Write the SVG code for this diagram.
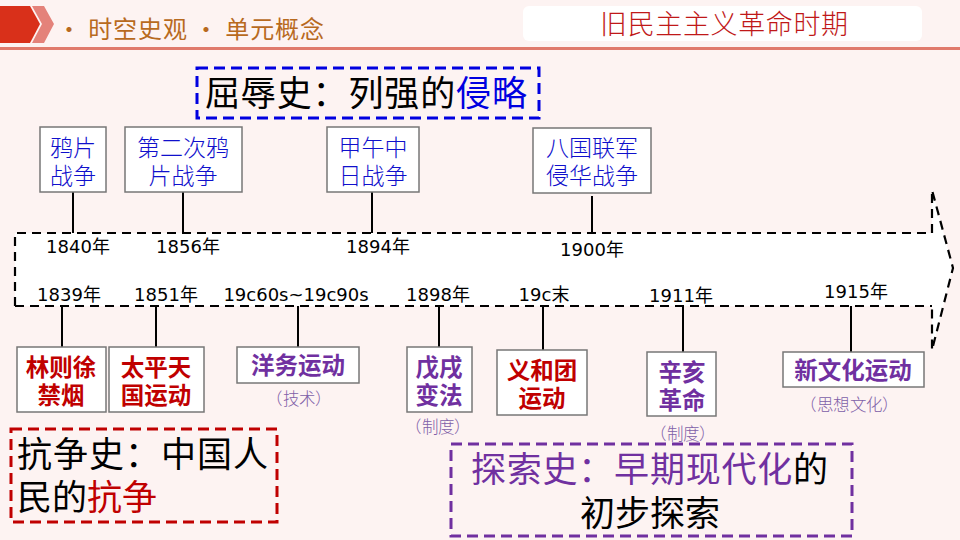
<svg xmlns="http://www.w3.org/2000/svg" width="960" height="540" viewBox="0 0 960 540">
<defs>
<style>
.sans{font-family:"Noto Sans CJK SC","Liberation Sans",sans-serif;}
.num{font-family:"DejaVu Sans","Noto Sans CJK SC",sans-serif;}
.box{fill:#fff;stroke:#777;stroke-width:1.5;}
.conn{stroke:#000;stroke-width:2;fill:none;}
.dash{stroke:#000;stroke-width:2.2;stroke-dasharray:9 6;fill:none;}
.blue{font-size:23px;fill:#1010cc;text-anchor:middle;font-weight:300;}
.year{font-size:18px;fill:#000;text-anchor:middle;}
.red{font-size:23.5px;fill:#c00000;text-anchor:middle;font-weight:700;}
.pur{font-size:23.5px;fill:#7030a0;text-anchor:middle;font-weight:700;}
.note{font-size:16.5px;fill:#8060a8;font-weight:300;}
.big{font-size:35px;fill:#000;}
</style>
</defs>
<rect width="960" height="540" fill="#fdf3f2"/>

<g id="header">
<polygon points="0,6 30,6 40,24 30,43 0,43" fill="#d9301a"/>
<polygon points="32,6 44,6 54,24 44,43 32,43 42,24" fill="#e4827a"/>
<text x="57" y="38" class="sans" font-size="24" fill="#b86a1e" textLength="267" lengthAdjust="spacing">• 时空史观 • 单元概念</text>
<rect x="0" y="47" width="960" height="3" fill="#e07a6c"/>
<rect x="523" y="6" width="399" height="35" rx="6" fill="#fff"/>
<text x="600" y="34" class="sans" font-size="27" fill="#c01818" font-weight="300" textLength="248" lengthAdjust="spacing">旧民主主义革命时期</text>
</g>

<g id="band">
<polygon points="15,233 932,233 932,190 953,268 932,350 932,306 15,306" fill="#fff" stroke="none"/>
<path class="dash" d="M15,306 L15,233 L932,233"/>
<path class="dash" d="M15,306 L932,306"/>
<path class="dash" d="M932,233 L932,190 L953,268 L932,350 L932,306"/>
</g>

<g id="connectors">
<line class="conn" x1="73" y1="192" x2="73" y2="233"/>
<line class="conn" x1="183" y1="192" x2="183" y2="233"/>
<line class="conn" x1="372" y1="192" x2="372" y2="233"/>
<line class="conn" x1="592" y1="196" x2="592" y2="233"/>
<line class="conn" x1="62" y1="306" x2="62" y2="347"/>
<line class="conn" x1="156" y1="306" x2="156" y2="347"/>
<line class="conn" x1="298" y1="306" x2="298" y2="347"/>
<line class="conn" x1="439" y1="306" x2="439" y2="348"/>
<line class="conn" x1="543" y1="306" x2="543" y2="350"/>
<line class="conn" x1="683" y1="306" x2="683" y2="352"/>
<line class="conn" x1="851" y1="306" x2="851" y2="352"/>
</g>

<g id="years" class="num">
<text class="year" x="78" y="253">1840年</text>
<text class="year" x="188" y="253">1856年</text>
<text class="year" x="378" y="253">1894年</text>
<text class="year" x="592" y="256">1900年</text>
<text class="year" x="69" y="301">1839年</text>
<text class="year" x="166" y="301">1851年</text>
<text class="year" x="296" y="301">19c60s~19c90s</text>
<text class="year" x="438" y="301">1898年</text>
<text class="year" x="544" y="301">19c末</text>
<text class="year" x="681" y="302">1911年</text>
<text class="year" x="856" y="298">1915年</text>
</g>

<g id="title-qurushi">
<rect x="197" y="68" width="342" height="50" fill="none" stroke="#0000e0" stroke-width="3" stroke-dasharray="11 6"/>
<text x="205" y="106" class="sans big" textLength="322" lengthAdjust="spacing">屈辱史：列强的<tspan fill="#0000e0">侵略</tspan></text>
</g>

<g id="n-yapian">
<rect class="box" x="40" y="127" width="66" height="65"/>
<text class="sans blue" x="73" y="156">鸦片<tspan x="73" dy="28">战争</tspan></text>
</g>
<g id="n-erci">
<rect class="box" x="125" y="127" width="117" height="65"/>
<text class="sans blue" x="183" y="156">第二次鸦<tspan x="183" dy="28">片战争</tspan></text>
</g>
<g id="n-jiawu">
<rect class="box" x="327" y="127" width="92" height="65"/>
<text class="sans blue" x="373" y="156">甲午中<tspan x="373" dy="28">日战争</tspan></text>
</g>
<g id="n-baguo">
<rect class="box" x="533" y="128" width="118" height="65"/>
<text class="sans blue" x="592" y="156">八国联军<tspan x="592" dy="28">侵华战争</tspan></text>
</g>

<g id="n-linzexu">
<rect class="box" x="17" y="347" width="89" height="65"/>
<text class="sans red" x="61" y="376">林则徐<tspan x="61" dy="28">禁烟</tspan></text>
</g>
<g id="n-taiping">
<rect class="box" x="109" y="347" width="95" height="65"/>
<text class="sans red" x="156" y="376">太平天<tspan x="156" dy="28">国运动</tspan></text>
</g>
<g id="n-yangwu">
<rect class="box" x="237" y="347" width="122" height="36"/>
<text class="sans pur" x="298" y="374">洋务运动</text>
<text class="sans note" x="266 283 299 315" y="405">（技术）</text>
</g>
<g id="n-wuxu">
<rect class="box" x="407" y="347" width="65" height="65"/>
<text class="sans pur" x="439" y="376">戊戌<tspan x="439" dy="28">变法</tspan></text>
<text class="sans note" x="405 422 438 454" y="433">（制度）</text>
</g>
<g id="n-yihetuan">
<rect class="box" x="497" y="350" width="90" height="65"/>
<text class="sans red" x="542" y="379">义和团<tspan x="542" dy="28">运动</tspan></text>
</g>
<g id="n-xinhai">
<rect class="box" x="647" y="352" width="69" height="64"/>
<text class="sans pur" x="682" y="381">辛亥<tspan x="682" dy="28">革命</tspan></text>
<text class="sans note" x="650 667 683 699" y="440">（制度）</text>
</g>
<g id="n-xinwenhua">
<rect class="box" x="783" y="352" width="141" height="35"/>
<text class="sans pur" x="853" y="379">新文化运动</text>
<text class="sans note" x="800 817 833 850 866 882" y="411">（思想文化）</text>
</g>

<g id="title-kangzhengshi">
<rect x="11" y="429" width="266" height="93" fill="none" stroke="#c00000" stroke-width="3" stroke-dasharray="11 6"/>
<text x="17" y="467" class="sans big" textLength="251" lengthAdjust="spacing">抗争史：中国人</text>
<text x="17" y="510" class="sans big">民的<tspan fill="#c00000">抗争</tspan></text>
</g>

<g id="title-tansuoshi">
<rect x="451" y="444" width="401" height="92" fill="none" stroke="#7030a0" stroke-width="3" stroke-dasharray="11 6"/>
<text x="471" y="482" class="sans big" textLength="357" lengthAdjust="spacing"><tspan fill="#7030a0">探索史：早期现代化</tspan>的</text>
<text x="650" y="526" class="sans big" text-anchor="middle">初步探索</text>
</g>
</svg>
